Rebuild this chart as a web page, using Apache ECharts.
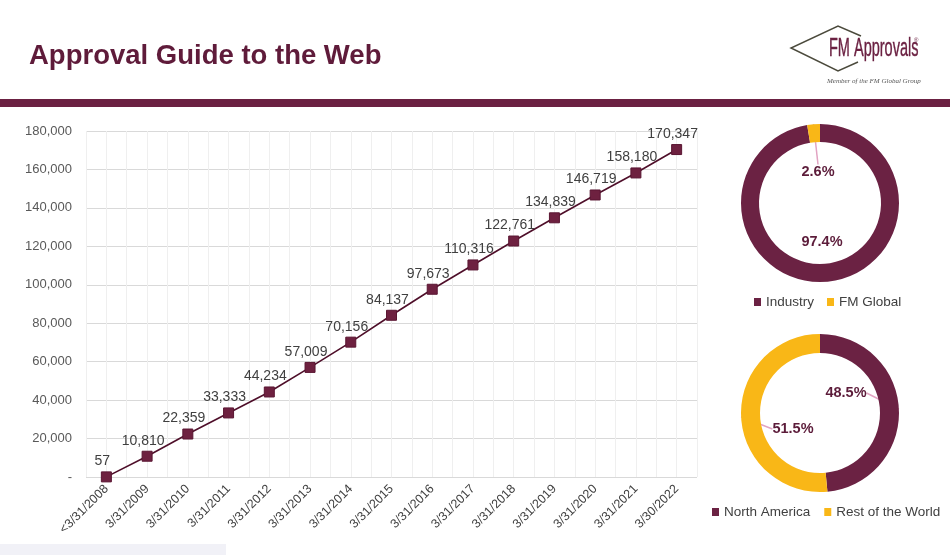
<!DOCTYPE html>
<html>
<head>
<meta charset="utf-8">
<script src="https://cdn.jsdelivr.net/npm/echarts@6/dist/echarts.min.js"></script>
<style>
html,body{margin:0;padding:0;background:#fff;}
#chart{width:950px;height:555px;}
</style>
</head>
<body>
<div id="chart"></div>
<script>
// ---- data ----
var categories = ['<3/31/2008','3/31/2009','3/31/2010','3/31/2011','3/31/2012','3/31/2013','3/31/2014','3/31/2015','3/31/2016','3/31/2017','3/31/2018','3/31/2019','3/31/2020','3/31/2021','3/30/2022'];
var listings = [57, 10810, 22359, 33333, 44234, 57009, 70156, 84137, 97673, 110316, 122761, 134839, 146719, 158180, 170347];
var sourceNames = ['Industry', 'FM Global'];
var sourceShares = [97.4, 2.6];
var regionNames = ['North America', 'Rest of the World'];
var regionShares = [48.5, 51.5];
var yTicks = { min: 0, max: 180000, interval: 20000 };

// ---- styles ----
var MAROON = '#6b2243';
var YELLOW = '#f9b717';
var FONT = 'Liberation Sans, Arial, sans-serif';

var pie1Center = [820, 203];
var pie2Center = [820, 413];
var pie1LabelShift = [[2, 39], [-2, -31]];
var pie2LabelShift = [[26, -20], [-27, 16]];

function pieData(names, values, colors, lineShow) {
  return names.map(function (n, i) {
    return { name: n, value: values[i], itemStyle: { color: colors[i] }, labelLine: { show: lineShow[i] } };
  });
}
function makeLayout(center, shifts) {
  return function (p) {
    var s = shifts[p.dataIndex];
    return { x: center[0] + s[0], y: center[1] + s[1], align: 'center', verticalAlign: 'middle' };
  };
}

var chart = echarts.init(document.getElementById('chart'), null, { renderer: 'canvas' });
var option = {
  backgroundColor: '#ffffff',
  animation: false,
  title: {
    text: 'Approval Guide to the Web',
    left: 24, top: 37,
    textStyle: { fontFamily: FONT, fontWeight: 'bold', fontSize: 27.5, color: '#5f1b3a' }
  },
  graphic: [
    { type: 'rect', shape: { x: 0, y: 99, width: 950, height: 8 }, style: { fill: '#6b2142' }, silent: true },
    { type: 'rect', shape: { x: 0, y: 544, width: 226, height: 11 }, style: { fill: '#f1f1f7' }, silent: true },
    { type: 'polyline', shape: { points: [[861, 36], [838, 26], [791, 48], [838, 71], [858, 62]] },
      style: { stroke: '#4b4a3c', lineWidth: 1.5, fill: null }, silent: true },
    { type: 'text', x: 829, y: 49, scaleX: 0.58,
      style: { text: 'FM Approvals', fontFamily: FONT, fontSize: 25, fill: '#6b2142', stroke: '#6b2142', lineWidth: 0.4, verticalAlign: 'middle', align: 'left' } },
    { type: 'text', x: 914, y: 40,
      style: { text: '®', fontFamily: FONT, fontSize: 6, fill: '#6b2142', verticalAlign: 'middle', align: 'left' } },
    { type: 'text', x: 827, y: 81,
      style: { text: 'Member of the FM Global Group', fontFamily: 'Liberation Serif, serif', fontStyle: 'italic', fontSize: 7, fill: '#555555', verticalAlign: 'middle', align: 'left' } }
  ],
  grid: { left: 86, right: 253, top: 131, bottom: 78, containLabel: false },
  xAxis: [
    {
      type: 'category', data: categories, boundaryGap: true,
      axisLine: { show: false }, axisTick: { show: false },
      axisLabel: { rotate: 45, interval: 0, margin: 10, fontFamily: FONT, fontSize: 12.5, color: '#404040' },
      splitLine: { show: false }
    },
    {
      type: 'category', position: 'bottom',
      data: categories.reduce(function (a, c) { a.push(c + 'a', c + 'b'); return a; }, []),
      boundaryGap: true,
      axisLine: { show: false }, axisTick: { show: false }, axisLabel: { show: false },
      splitLine: { show: true, interval: 0, lineStyle: { color: '#efefef', width: 1 } }
    }
  ],
  yAxis: {
    type: 'value', min: yTicks.min, max: yTicks.max, interval: yTicks.interval,
    axisLine: { show: false }, axisTick: { show: false },
    axisLabel: {
      margin: 14, fontFamily: FONT, fontSize: 13, color: '#595959',
      formatter: function (v) { return v === 0 ? '-' : v.toLocaleString('en-US'); }
    },
    splitLine: { lineStyle: { color: '#d9d9d9', width: 1 } }
  },
  legend: [
    {
      data: sourceNames, left: 749, top: 290, orient: 'horizontal',
      icon: 'rect', itemWidth: 7, itemHeight: 8, itemGap: 13,
      textStyle: { fontFamily: FONT, fontSize: 13.5, color: '#404040' }
    },
    {
      data: regionNames, left: 707, top: 500, orient: 'horizontal',
      icon: 'rect', itemWidth: 7, itemHeight: 8, itemGap: 14,
      textStyle: { fontFamily: FONT, fontSize: 13.5, color: '#404040' }
    }
  ],
  series: [
    {
      type: 'line', name: 'Listings', data: listings, xAxisIndex: 0,
      symbol: 'rect', symbolSize: 10,
      itemStyle: { color: '#6e2140', borderColor: '#5a1632', borderWidth: 1 },
      lineStyle: { color: '#4f0f2a', width: 1.6 },
      label: {
        show: true, position: 'top', distance: 3, offset: [-4, 0],
        fontFamily: FONT, fontSize: 14, color: '#404040',
        formatter: function (p) { return p.value.toLocaleString('en-US'); }
      }
    },
    {
      type: 'pie', name: 'Source', center: pie1Center, radius: [61, 79],
      startAngle: 90, clockwise: true, percentPrecision: 1,
      data: pieData(sourceNames, sourceShares, [MAROON, YELLOW], [false, true]),
      label: {
        show: true, position: 'outside', formatter: '{d}%', overflow: 'none', width: 80,
        fontFamily: FONT, fontWeight: 'bold', fontSize: 14.5, color: '#5c1c3a'
      },
      labelLine: { show: true, length: 0, length2: 0, lineStyle: { color: '#e2a3c2', width: 1.5 } },
      labelLayout: makeLayout(pie1Center, pie1LabelShift),
      emphasis: { disabled: true }
    },
    {
      type: 'pie', name: 'Region', center: pie2Center, radius: [60, 79],
      startAngle: 90, clockwise: true, percentPrecision: 1,
      data: pieData(regionNames, regionShares, [MAROON, YELLOW], [true, true]),
      label: {
        show: true, position: 'outside', formatter: '{d}%', overflow: 'none', width: 80,
        fontFamily: FONT, fontWeight: 'bold', fontSize: 14.5, color: '#5c1c3a'
      },
      labelLine: { show: true, length: 0, length2: 0, lineStyle: { color: '#e2a3c2', width: 1.5 } },
      labelLayout: makeLayout(pie2Center, pie2LabelShift),
      emphasis: { disabled: true }
    }
  ]
};
chart.setOption(option);
</script>
</body>
</html>
